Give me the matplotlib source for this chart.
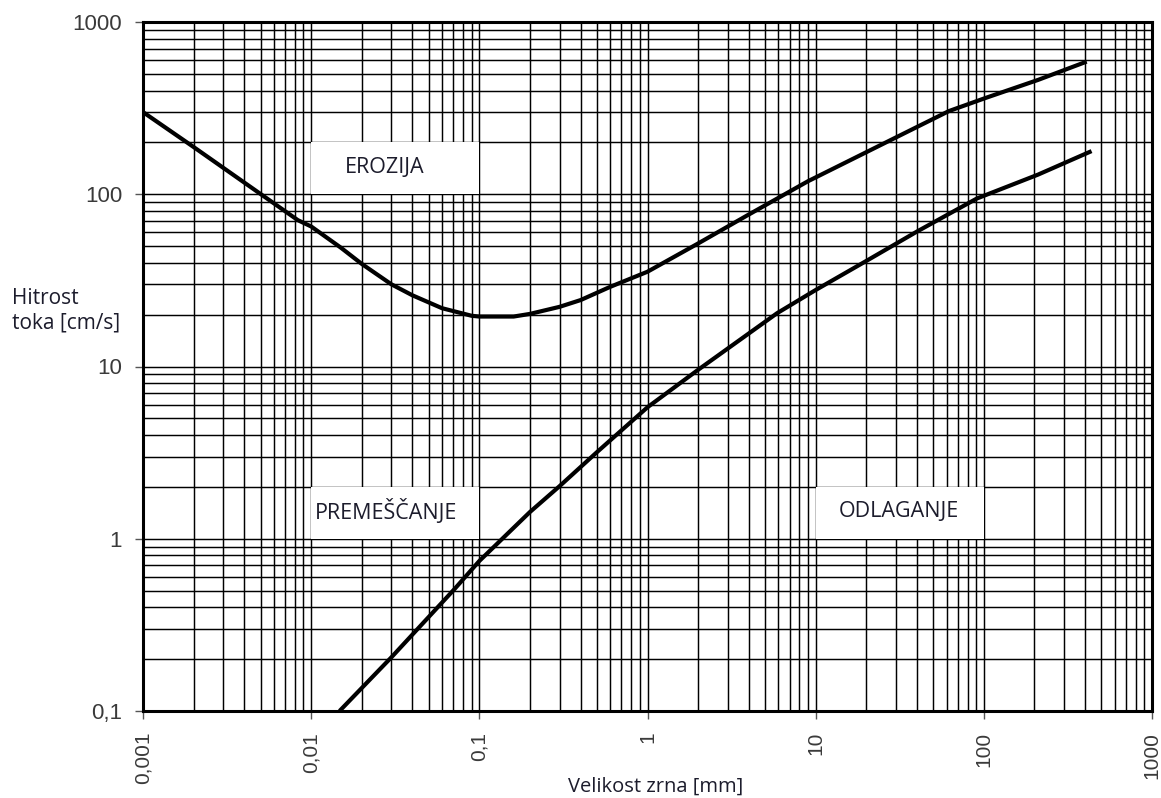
"""
Hjulström diagram (erozija / premeščanje / odlaganje) redrawn with matplotlib.
"""

import matplotlib
matplotlib.use("Agg")
import matplotlib.pyplot as plt
from matplotlib.ticker import FixedLocator, LogLocator, NullFormatter

# ── data ──────────────────────────────────────────────────────────────────────
erosion_x = [0.001, 0.002, 0.00834, 0.01, 0.015, 0.02, 0.03, 0.04, 0.06, 0.09,
             0.1, 0.16, 0.2, 0.3, 0.4, 0.6, 1.0, 2.0, 3.93, 9.0, 27.0, 62.0,
             103.0, 210.0, 409.0]
erosion_y = [300, 188, 70.7, 65, 49, 39.4, 30, 25.9, 21.8, 19.7,
             19.5, 19.5, 20.2, 22.2, 24.3, 29, 35.5, 51.8, 75.5, 119, 203, 304,
             363, 461, 589]

deposit_x = [0.01475, 0.03, 0.071, 0.1, 0.2, 0.3, 0.5, 1.0, 2.0, 5.9, 10.0,
             20.0, 40.0, 91.0, 210.0, 437.0]
deposit_y = [0.1, 0.205, 0.509, 0.743, 1.43, 2.02, 3.18, 5.8, 9.57, 20.4, 27.8,
             41, 60.7, 94.5, 130, 178]

x_ticks = [0.001, 0.01, 0.1, 1, 10, 100, 1000]
x_tick_labels = ["0,001", "0,01", "0,1", "1", "10", "100", "1000"]
y_ticks = [0.1, 1, 10, 100, 1000]
y_tick_labels = ["0,1", "1", "10", "100", "1000"]

# region label boxes: (x0, x1, y0, y1) in data units
box_erosion = (0.01, 0.1, 100, 200)
box_transport = (0.01, 0.1, 1, 2)
box_deposit = (10, 100, 1, 2)

TEXT_FONT = "Open Sans"
TICK_FONT = "Liberation Sans"
TEXT_COLOR = "#1c1c2c"

W, H = 1161, 798
fig = plt.figure(figsize=(W / 100, H / 100), dpi=100)
fig.patch.set_facecolor("white")

ax = fig.add_axes([143 / W, (H - 711) / H, (1152 - 143) / W, (711 - 22) / H])
ax.set_xscale("log")
ax.set_yscale("log")
ax.set_xlim(x_ticks[0], x_ticks[-1])
ax.set_ylim(y_ticks[0], y_ticks[-1])

# grid: every decade plus 2..9
ax.xaxis.set_minor_locator(LogLocator(base=10, subs=range(2, 10), numticks=20))
ax.yaxis.set_minor_locator(LogLocator(base=10, subs=range(2, 10), numticks=20))
ax.xaxis.set_minor_formatter(NullFormatter())
ax.yaxis.set_minor_formatter(NullFormatter())
ax.grid(True, which="both", color="black", linewidth=1.05)
ax.set_axisbelow(True)

ax.xaxis.set_major_locator(FixedLocator(x_ticks))
ax.yaxis.set_major_locator(FixedLocator(y_ticks))
ax.set_xticklabels(x_tick_labels, rotation=90, fontfamily=TICK_FONT,
                   fontsize=15, color="#3a3a3a")
ax.set_yticklabels(y_tick_labels, fontfamily=TICK_FONT, fontsize=16,
                   color="#3a3a3a")
ax.tick_params(which="major", direction="out", length=6, width=1.0,
               color="#555555", pad=9)
ax.tick_params(which="minor", length=0)

for side in ["left", "bottom", "top", "right"]:
    ax.spines[side].set_color("black")
    ax.spines[side].set_linewidth(2.2)

# ── white label boxes over the grid ──────────────────────────────────────────
for x0, x1, y0, y1 in [box_erosion, box_transport, box_deposit]:
    ax.fill([x0, x1, x1, x0], [y0, y0, y1, y1], color="white", zorder=2,
            linewidth=0)

ax.text(0.0272, 143, "EROZIJA", ha="center", va="center", fontsize=15.5,
        fontfamily=TEXT_FONT, color=TEXT_COLOR, zorder=3)
ax.text(0.0277, 1.44, "PREMEŠČANJE", ha="center", va="center", fontsize=15.5,
        fontfamily=TEXT_FONT, color=TEXT_COLOR, zorder=3)
ax.text(31.4, 1.44, "ODLAGANJE", ha="center", va="center", fontsize=15.5,
        fontfamily=TEXT_FONT, color=TEXT_COLOR, zorder=3)

# ── curves ───────────────────────────────────────────────────────────────────
ax.plot(erosion_x, erosion_y, color="black", linewidth=3.0, zorder=4,
        solid_capstyle="butt", solid_joinstyle="round")
ax.plot(deposit_x, deposit_y, color="black", linewidth=3.0, zorder=4,
        solid_capstyle="butt", solid_joinstyle="round")

# ── axis titles ──────────────────────────────────────────────────────────────
fig.text(12 / W, 1 - 311 / H, "Hitrost\ntoka [cm/s]", ha="left", va="center",
         fontsize=15, fontfamily=TEXT_FONT, color=TEXT_COLOR, linespacing=1.25)
fig.text(656 / W, 1 - 787 / H, "Velikost zrna [mm]", ha="center", va="center",
         fontsize=14.5, fontfamily=TEXT_FONT, color=TEXT_COLOR)

fig.savefig("out.png", dpi=100, facecolor=fig.get_facecolor())
plt.close(fig)
